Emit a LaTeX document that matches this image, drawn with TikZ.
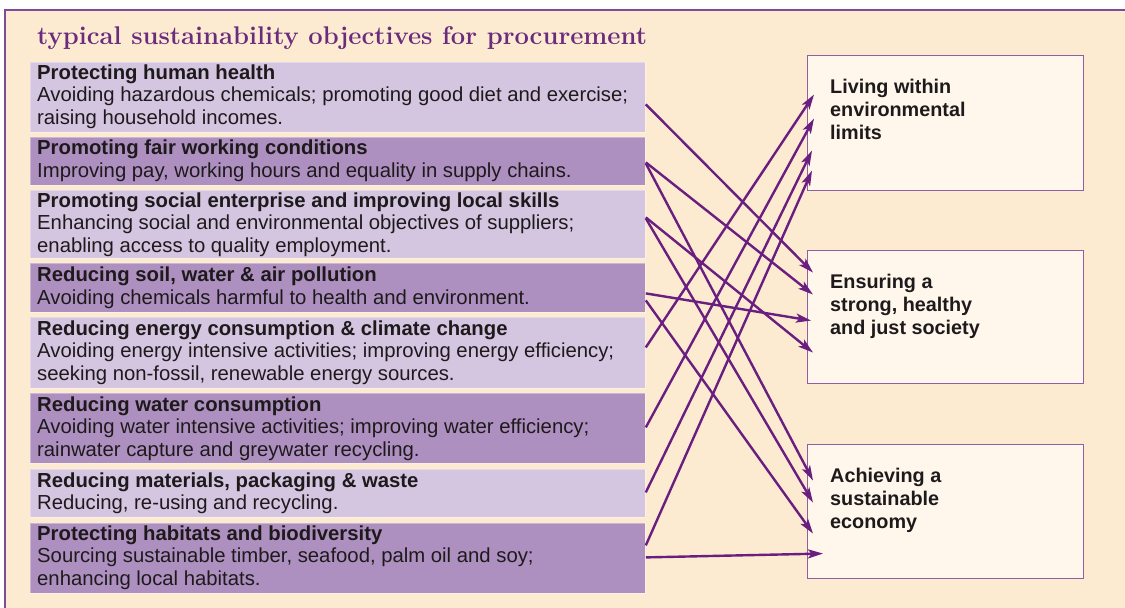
\documentclass[tikz,border=0pt]{standalone}
\usepackage{fontspec}
\setsansfont{Liberation Sans}
\usetikzlibrary{arrows.meta,calc}
\definecolor{cream}{HTML}{FCEBD1}
\definecolor{lightrow}{HTML}{D4C5E0}
\definecolor{darkrow}{HTML}{AE90C0}
\definecolor{rboxfill}{HTML}{FFF7EC}
\definecolor{rboxline}{HTML}{8E5FA3}
\definecolor{arrowc}{HTML}{6A1E80}
\definecolor{titlec}{HTML}{6B2C7E}
\definecolor{textc}{HTML}{1E1A1C}
\definecolor{framec}{HTML}{7D4B97}
\begin{document}
\begin{tikzpicture}[x=1pt,y=-1pt,
  rowbox/.style={rectangle, inner sep=0pt, minimum width=615pt, anchor=north west, draw=white, draw opacity=0.35, line width=0.8pt},
  lrow/.style={rowbox, fill=lightrow},
  drow/.style={rowbox, fill=darkrow},
  rowtext/.style={anchor=base west, align=left, inner sep=0pt, text=textc, font=\sffamily\fontsize{20.3}{22.5}\selectfont},
  rbox/.style={rectangle, inner sep=0pt, minimum width=276pt, anchor=north west, fill=rboxfill, draw=rboxline, line width=1.1pt},
  rtext/.style={anchor=base west, align=left, inner sep=0pt, text=textc, font=\sffamily\bfseries\fontsize{19.8}{23}\selectfont},
  arr/.style={draw=arrowc, line width=2.4pt, -{Stealth[length=15pt,width=9pt,inset=3.5pt]}}
]
\useasboundingbox (0,0) rectangle (1125,608);
\fill[white] (0,0) rectangle (1125,608);
\fill[cream] (5,9.5) rectangle (1125,608);
\draw[framec, line width=2pt] (5,608) -- (5,9.5) -- (1125,9.5);

\node[anchor=base west, inner sep=0pt, text=titlec, font=\bfseries\fontsize{25.6}{28}\selectfont] (title) at (37,44) {typical sustainability objectives for procurement};

% left rows
\node[lrow, minimum height=70pt] (r1) at (30,62) {};
\node[drow, minimum height=48pt] (r2) at (30,137) {};
\node[lrow, minimum height=68pt] (r3) at (30,190) {};
\node[drow, minimum height=49pt] (r4) at (30,263) {};
\node[lrow, minimum height=71pt] (r5) at (30,317) {};
\node[drow, minimum height=70pt] (r6) at (30,393) {};
\node[lrow, minimum height=48pt] (r7) at (30,469) {};
\node[drow, minimum height=70pt] (r8) at (30,523) {};

% (base anchor = baseline of the last line)
\node[rowtext] (t1) at (37,124) {\textbf{Protecting human health}\\Avoiding hazardous chemicals; promoting good diet and exercise;\\raising household incomes.};
\node[rowtext] (t2) at (37,177) {\textbf{Promoting fair working conditions}\\Improving pay, working hours and equality in supply chains.};
\node[rowtext] (t3) at (37,252) {\textbf{Promoting social enterprise and improving local skills}\\Enhancing social and environmental objectives of suppliers;\\enabling access to quality employment.};
\node[rowtext] (t4) at (37,304) {\textbf{Reducing soil, water \& air pollution}\\Avoiding chemicals harmful to health and environment.};
\node[rowtext] (t5) at (37,380) {\textbf{Reducing energy consumption \& climate change}\\Avoiding energy intensive activities; improving energy efficiency;\\seeking non-fossil, renewable energy sources.};
\node[rowtext] (t6) at (37,456) {\textbf{Reducing water consumption}\\Avoiding water intensive activities; improving water efficiency;\\rainwater capture and greywater recycling.};
\node[rowtext] (t7) at (37,509.5) {\textbf{Reducing materials, packaging \& waste}\\Reducing, re-using and recycling.};
\node[rowtext] (t8) at (37,585) {\textbf{Protecting habitats and biodiversity}\\Sourcing sustainable timber, seafood, palm oil and soy;\\enhancing local habitats.};

% right boxes
\node[rbox, minimum height=135pt] (b1) at (807,55) {};
\node[rbox, minimum height=133pt] (b2) at (807,250) {};
\node[rbox, minimum height=134pt] (b3) at (807,444) {};
\node[rtext] (b1t) at (830,139) {Living within\\environmental\\limits};
\node[rtext] (b2t) at (830,334) {Ensuring a\\strong, healthy\\and just society};
\node[rtext] (b3t) at (830,528) {Achieving a\\sustainable\\economy};

% connectors
\draw[arr] ($(r1.east)+(0,7)$) -- ($(b2.west)+(6,-44.5)$);
\draw[arr] ($(r2.east)+(0,1)$) -- ($(b2.west)+(6,-22.5)$);
\draw[arr] ($(r2.east)+(0,2)$) -- ($(b3.west)+(6,-31)$);
\draw[arr] ($(r3.east)+(0,-7)$) -- ($(b2.west)+(6,35.5)$);
\draw[arr] ($(r3.east)+(0,-6)$) -- ($(b3.west)+(6,-9)$);
\draw[arr] ($(r4.east)+(0,5.5)$) -- ($(b2.west)+(4,3.5)$);
\draw[arr] ($(r4.east)+(0,12.5)$) -- ($(b3.west)+(6,22)$);
\draw[arr] ($(r5.east)+(0,-5.5)$) -- ($(b1.west)+(7,-28.5)$);
\draw[arr] ($(r6.east)+(0,-1)$) -- ($(b1.west)+(7,-4.5)$);
\draw[arr] ($(r7.east)+(0,-1)$) -- ($(b1.west)+(5,27.5)$);
\draw[arr] ($(r8.east)+(0,-13)$) -- ($(b1.west)+(5,47.5)$);
\draw[arr] ($(r8.east)+(0,-1)$) -- ($(b3.west)+(16,42)$);
\end{tikzpicture}
\end{document}
